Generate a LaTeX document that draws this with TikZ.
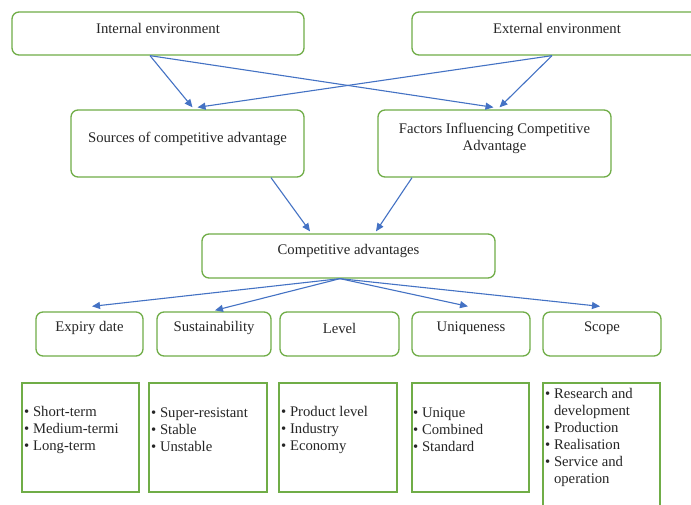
\documentclass[tikz,border=0pt]{standalone}
\usepackage{fontspec}
\setmainfont{Liberation Serif}
\usetikzlibrary{arrows.meta}
\definecolor{boxgreen}{HTML}{70AD47}
\definecolor{arrowblue}{HTML}{4472C4}
\begin{document}
\begin{tikzpicture}[x=1pt,y=-1pt,
        box/.style={draw=boxgreen, line width=1.3pt, rounded corners=7pt, inner sep=0pt},
        listbox/.style={draw=boxgreen, line width=1.3pt, inner sep=0pt},
        txt/.style={font=\fontsize{14.7}{17}\selectfont, text=black!85, inner sep=0pt},
        lst/.style={txt, align=left, anchor=west},
        arr/.style={draw=arrowblue, line width=1.1pt, -{Triangle[length=8pt,width=7pt]}}]
        \clip (0,0) rectangle (691,504);
        \fill[white] (0,0) rectangle (691,504);

        % top level
        \node[box, minimum width=292, minimum height=43] (int) at (158,33.5) {};
        \node[txt] (intT) at ([yshift=5pt]int.center) {Internal environment};
        \node[box, minimum width=288, minimum height=43] (ext) at (556,33.5) {};
        \node[txt] (extT) at ([yshift=5pt,xshift=1pt]ext.center) {External environment};

        \node[box, minimum width=233, minimum height=67] (src) at (187.5,143.5) {};
        \node[txt] (srcT) at ([yshift=5pt]src.center) {Sources of competitive advantage};
        \node[box, minimum width=233, minimum height=67] (fac) at (494.5,143.5) {};
        \node[txt, align=center] (facT) at ([yshift=5pt]fac.center) {Factors Influencing Competitive\\Advantage};

        \node[box, minimum width=293, minimum height=44] (comp) at (348.5,256) {};
        \node[txt] (compT) at ([yshift=5pt]comp.center) {Competitive advantages};

        \draw[arr] ([xshift=-8pt]int.south) -- ([xshift=5pt,yshift=2pt]src.north);
        \draw[arr] ([xshift=-8pt]int.south) -- ([xshift=-1pt,yshift=2pt]fac.north);
        \draw[arr] ([xshift=-4pt]ext.south) -- ([xshift=10pt,yshift=2pt]src.north);
        \draw[arr] ([xshift=-4pt]ext.south) -- ([xshift=5pt,yshift=2pt]fac.north);

        \draw[arr] ([xshift=83.5pt]src.south) -- ([xshift=-38.5pt,yshift=2pt]comp.north);
        \draw[arr] ([xshift=-82.5pt]fac.south) -- ([xshift=27.5pt,yshift=2pt]comp.north);

        % kinds of advantage
        \node[box, minimum width=107, minimum height=44] (exp) at (89.5,334) {};
        \node[txt] (expT) at ([yshift=6pt]exp.center) {Expiry date};
        \node[box, minimum width=114, minimum height=44] (sus) at (214,334) {};
        \node[txt] (susT) at ([yshift=6pt]sus.center) {Sustainability};
        \node[box, minimum width=119, minimum height=44] (lev) at (339.5,334) {};
        \node[txt] (levT) at ([yshift=6pt]lev.center) {Level};
        \node[box, minimum width=118, minimum height=44] (uni) at (471,334) {};
        \node[txt] (uniT) at ([yshift=6pt]uni.center) {Uniqueness};
        \node[box, minimum width=118, minimum height=44] (sco) at (602,334) {};
        \node[txt] (scoT) at ([yshift=6pt]sco.center) {Scope};

        \draw[arr] ([xshift=-8.5pt]comp.south) -- ([xshift=2.5pt,yshift=5pt]exp.north);
        \draw[arr] ([xshift=-8.5pt]comp.south) -- ([xshift=1pt,yshift=1pt]sus.north);
        \draw[arr] ([xshift=-8.5pt]comp.south) -- ([xshift=-3pt,yshift=5pt]uni.north);
        \draw[arr] ([xshift=-8.5pt]comp.south) -- ([xshift=-2pt,yshift=5pt]sco.north);

        % lists
        \node[listbox, minimum width=117, minimum height=109] (expL) at (80.5,437.5) {};
        \node[lst] (expI) at (24,430) {\textbullet\ Short-term\\\textbullet\ Medium-termi\\\textbullet\ Long-term};
        \node[listbox, minimum width=118, minimum height=109] (susL) at (208,437.5) {};
        \node[lst] (susI) at (151,430) {\textbullet\ Super-resistant\\\textbullet\ Stable\\\textbullet\ Unstable};
        \node[listbox, minimum width=118, minimum height=109] (levL) at (338,437.5) {};
        \node[lst] (levI) at (281,430) {\textbullet\ Product level\\\textbullet\ Industry\\\textbullet\ Economy};
        \node[listbox, minimum width=117, minimum height=109] (uniL) at (470.5,437.5) {};
        \node[lst] (uniI) at (413,430) {\textbullet\ Unique\\\textbullet\ Combined\\\textbullet\ Standard};
        \node[listbox, minimum width=117, minimum height=137] (scoL) at (601.5,451.5) {};
        \node[lst] (scoI) at (545,437.5) {\textbullet\ Research and\\\phantom{\textbullet\ }development\\\textbullet\ Production\\\textbullet\ Realisation\\\textbullet\ Service and\\\phantom{\textbullet\ }operation};

\end{tikzpicture}
\end{document}
